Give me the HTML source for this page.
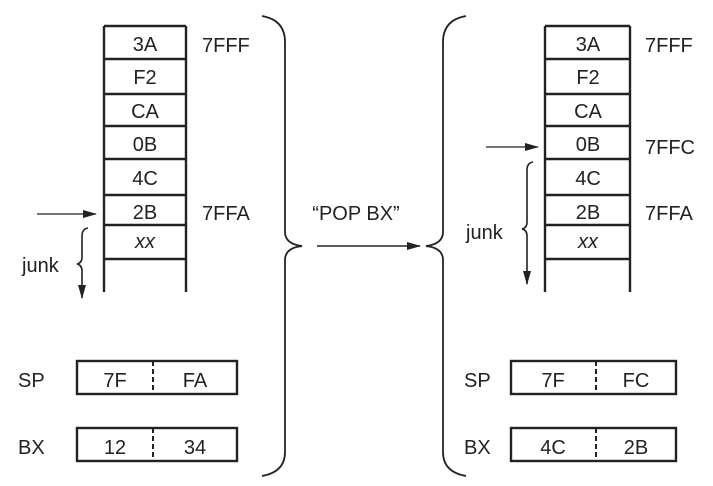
<!DOCTYPE html>
<html><head><meta charset="utf-8"><style>
html,body{margin:0;padding:0;background:#fff;}
svg{display:block;}
text{font-family:"Liberation Sans",sans-serif;font-size:20px;fill:#222;}
</style></head><body>
<svg width="713" height="486" viewBox="0 0 713 486" xmlns="http://www.w3.org/2000/svg">
<defs>
<marker id="ah" markerWidth="14" markerHeight="8" refX="13" refY="4" orient="auto" markerUnits="userSpaceOnUse">
<path d="M0,0 L14,4 L0,8 Z" fill="#222"/></marker>
</defs>
<g stroke="#222" fill="none">
<g stroke-width="2.4">
<line x1="104" y1="26" x2="104" y2="292"/><line x1="186" y1="26" x2="186" y2="292"/>
<line x1="104" y1="26" x2="186" y2="26"/><line x1="104" y1="59" x2="186" y2="59"/>
<line x1="104" y1="94" x2="186" y2="94"/><line x1="104" y1="126" x2="186" y2="126"/>
<line x1="104" y1="159" x2="186" y2="159"/><line x1="104" y1="195" x2="186" y2="195"/>
<line x1="104" y1="225" x2="186" y2="225"/><line x1="104" y1="259" x2="186" y2="259"/>
</g>
<g stroke-width="2.4">
<line x1="545" y1="26" x2="545" y2="292"/><line x1="630" y1="26" x2="630" y2="292"/>
<line x1="545" y1="26" x2="630" y2="26"/><line x1="545" y1="59" x2="630" y2="59"/>
<line x1="545" y1="94" x2="630" y2="94"/><line x1="545" y1="126" x2="630" y2="126"/>
<line x1="545" y1="159" x2="630" y2="159"/><line x1="545" y1="195" x2="630" y2="195"/>
<line x1="545" y1="225" x2="630" y2="225"/><line x1="545" y1="259" x2="630" y2="259"/>
</g>
<line x1="37" y1="214" x2="96" y2="214" stroke-width="1.3" marker-end="url(#ah)"/>
<line x1="486" y1="147" x2="538" y2="147" stroke-width="1.3" marker-end="url(#ah)"/>
<path d="M88,228 Q82,229 82,236 L82,257 Q82,263 77,264 Q82,265 82,271 L82,298" stroke-width="1.6" marker-end="url(#ah)"/>
<path d="M533,162 Q527,163 527,170 L527,222 Q527,228 522,229 Q527,230 527,236 L527,284" stroke-width="1.6" marker-end="url(#ah)"/>
<path d="M262,16 Q285,20 285,42 L285,232 Q285,244 302,246 Q285,248 285,260 L285,452 Q285,472 262,476" stroke-width="1.8"/>
<path d="M466,16 Q443,20 443,42 L443,232 Q443,244 426,246 Q443,248 443,260 L443,452 Q443,472 466,476" stroke-width="1.8"/>
<line x1="317" y1="246" x2="420" y2="246" stroke-width="1.5" marker-end="url(#ah)"/>
<g stroke-width="2.4">
<rect x="77" y="361" width="160" height="33"/><rect x="77" y="428" width="160" height="33"/>
<rect x="511" y="361" width="165" height="33"/><rect x="511" y="428" width="165" height="33"/>
</g>
<g stroke-width="2" stroke-dasharray="5,3">
<line x1="153" y1="361" x2="153" y2="394"/><line x1="153" y1="428" x2="153" y2="461"/>
<line x1="596" y1="361" x2="596" y2="394"/><line x1="596" y1="428" x2="596" y2="461"/>
</g>
</g>
<g text-anchor="middle">
<text x="145" y="51">3A</text><text x="145" y="84">F2</text><text x="145" y="118">CA</text>
<text x="145" y="151">0B</text><text x="145" y="185">4C</text><text x="145" y="219">2B</text>
<text x="145" y="248" font-style="italic" font-size="18">xx</text>
<text x="588" y="51">3A</text><text x="588" y="84">F2</text><text x="588" y="118">CA</text>
<text x="588" y="151">0B</text><text x="588" y="185">4C</text><text x="588" y="219">2B</text>
<text x="588" y="248" font-style="italic" font-size="18">xx</text>
<text x="356" y="220">“POP BX”</text>
<text x="115" y="387">7F</text><text x="195" y="387">FA</text>
<text x="115" y="454">12</text><text x="195" y="454">34</text>
<text x="553" y="387">7F</text><text x="636" y="387">FC</text>
<text x="553" y="454">4C</text><text x="636" y="454">2B</text>
</g>
<text x="202" y="52">7FFF</text><text x="202" y="220">7FFA</text>
<text x="645" y="52">7FFF</text><text x="645" y="154">7FFC</text><text x="645" y="220">7FFA</text>
<text x="22" y="272">junk</text><text x="466" y="239">junk</text>
<text x="18" y="387">SP</text><text x="18" y="454">BX</text>
<text x="464" y="387">SP</text><text x="464" y="454">BX</text>
</svg>
</body></html>
